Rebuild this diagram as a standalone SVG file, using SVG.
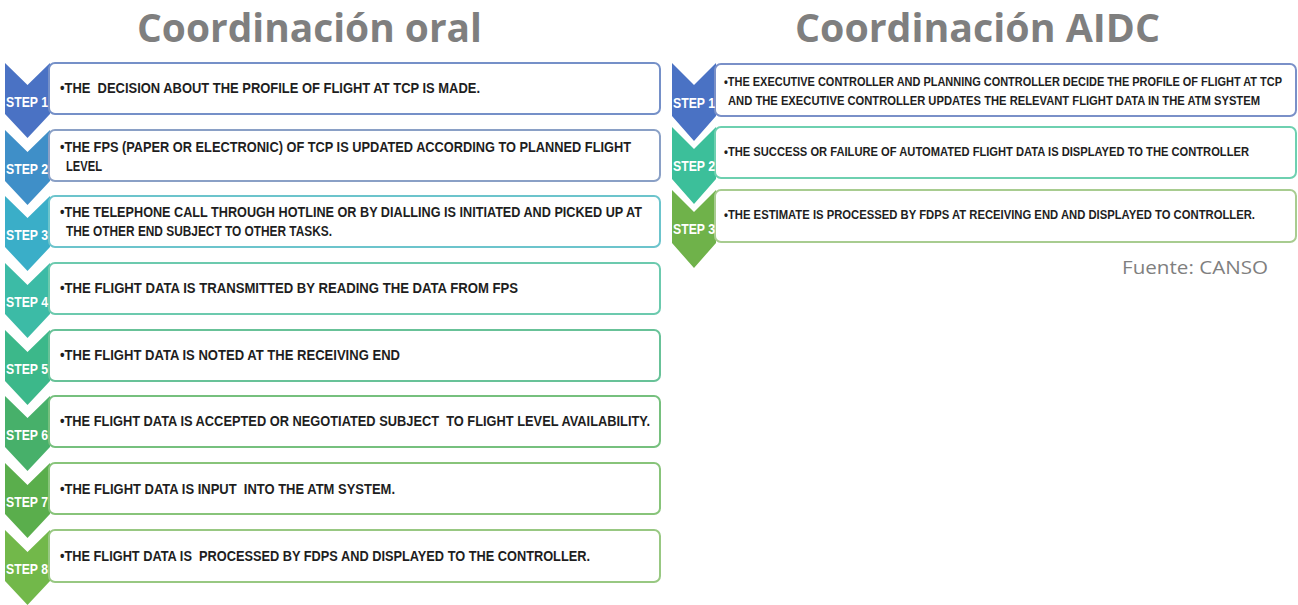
<svg xmlns="http://www.w3.org/2000/svg" width="1298" height="605" viewBox="0 0 1298 605">
<style>
text{white-space:pre}
.title{font-family:"Open Sans","Liberation Sans",sans-serif;font-weight:bold;font-size:40px;fill:#7f7f7f}
.src{font-family:"Open Sans","Liberation Sans",sans-serif;font-size:19px;fill:#7f7f7f}
.lbl{font-family:"Liberation Sans","DejaVu Sans",sans-serif;font-weight:bold;font-size:15px;fill:#ffffff}
.txt{font-family:"Liberation Sans","DejaVu Sans",sans-serif;font-weight:bold;font-size:14px;fill:#1e1e1e}
.txs{font-family:"Liberation Sans","DejaVu Sans",sans-serif;font-weight:bold;font-size:12px;fill:#1e1e1e}
.box{fill:#ffffff;stroke-width:2}
</style>
<rect width="1298" height="605" fill="#ffffff"/>
<text class="title" x="137" y="42" textLength="345" lengthAdjust="spacingAndGlyphs">Coordinación oral</text>
<text class="title" x="795" y="42" textLength="365" lengthAdjust="spacingAndGlyphs">Coordinación AIDC</text>

<g id="oral-step1">
<path d="M5,63 L27.5,85 L50,63 L50,114 L27.5,138 L5,114 Z" fill="#4a72c4"/>
<rect class="box" x="49" y="63" width="611" height="51" rx="6" stroke="#7590c8"/>
<text class="lbl" x="6" y="107" textLength="42" lengthAdjust="spacingAndGlyphs">STEP 1</text>
<text class="txt" x="60" y="93" textLength="420" lengthAdjust="spacingAndGlyphs">•THE  DECISION ABOUT THE PROFILE OF FLIGHT AT TCP IS MADE.</text>
</g>
<g id="oral-step2">
<path d="M5,130 L27.5,152 L50,130 L50,181 L27.5,205 L5,181 Z" fill="#3f8fc8"/>
<rect class="box" x="49" y="130" width="611" height="51" rx="6" stroke="#8aa0c6"/>
<text class="lbl" x="6" y="174" textLength="42" lengthAdjust="spacingAndGlyphs">STEP 2</text>
<text class="txt" x="60" y="152" textLength="571" lengthAdjust="spacingAndGlyphs">•THE FPS (PAPER OR ELECTRONIC) OF TCP IS UPDATED ACCORDING TO PLANNED FLIGHT</text>
<text class="txt" x="66" y="171" textLength="36" lengthAdjust="spacingAndGlyphs">LEVEL</text>
</g>
<g id="oral-step3">
<path d="M5,196 L27.5,218 L50,196 L50,247 L27.5,271 L5,247 Z" fill="#3aaec8"/>
<rect class="box" x="49" y="196" width="611" height="51" rx="6" stroke="#6cc4cc"/>
<text class="lbl" x="6" y="240" textLength="42" lengthAdjust="spacingAndGlyphs">STEP 3</text>
<text class="txt" x="60" y="217" textLength="582" lengthAdjust="spacingAndGlyphs">•THE TELEPHONE CALL THROUGH HOTLINE OR BY DIALLING IS INITIATED AND PICKED UP AT</text>
<text class="txt" x="66" y="236" textLength="266" lengthAdjust="spacingAndGlyphs">THE OTHER END SUBJECT TO OTHER TASKS.</text>
</g>
<g id="oral-step4">
<path d="M5,263 L27.5,285 L50,263 L50,314 L27.5,338 L5,314 Z" fill="#3cbba6"/>
<rect class="box" x="49" y="263" width="611" height="51" rx="6" stroke="#6ccaae"/>
<text class="lbl" x="6" y="307" textLength="42" lengthAdjust="spacingAndGlyphs">STEP 4</text>
<text class="txt" x="60" y="293" textLength="458" lengthAdjust="spacingAndGlyphs">•THE FLIGHT DATA IS TRANSMITTED BY READING THE DATA FROM FPS</text>
</g>
<g id="oral-step5">
<path d="M5,330 L27.5,352 L50,330 L50,381 L27.5,405 L5,381 Z" fill="#3cb88a"/>
<rect class="box" x="49" y="330" width="611" height="51" rx="6" stroke="#68c298"/>
<text class="lbl" x="6" y="374" textLength="42" lengthAdjust="spacingAndGlyphs">STEP 5</text>
<text class="txt" x="60" y="360" textLength="340" lengthAdjust="spacingAndGlyphs">•THE FLIGHT DATA IS NOTED AT THE RECEIVING END</text>
</g>
<g id="oral-step6">
<path d="M5,396 L27.5,418 L50,396 L50,447 L27.5,471 L5,447 Z" fill="#47b06a"/>
<rect class="box" x="49" y="396" width="611" height="51" rx="6" stroke="#76c07e"/>
<text class="lbl" x="6" y="440" textLength="42" lengthAdjust="spacingAndGlyphs">STEP 6</text>
<text class="txt" x="60" y="426" textLength="590" lengthAdjust="spacingAndGlyphs">•THE FLIGHT DATA IS ACCEPTED OR NEGOTIATED SUBJECT  TO FLIGHT LEVEL AVAILABILITY.</text>
</g>
<g id="oral-step7">
<path d="M5,463 L27.5,485 L50,463 L50,514 L27.5,538 L5,514 Z" fill="#5aae4c"/>
<rect class="box" x="49" y="463" width="611" height="51" rx="6" stroke="#88c47a"/>
<text class="lbl" x="6" y="507" textLength="42" lengthAdjust="spacingAndGlyphs">STEP 7</text>
<text class="txt" x="60" y="494" textLength="335" lengthAdjust="spacingAndGlyphs">•THE FLIGHT DATA IS INPUT  INTO THE ATM SYSTEM.</text>
</g>
<g id="oral-step8">
<path d="M5,530 L27.5,552 L50,530 L50,581 L27.5,605 L5,581 Z" fill="#72b84a"/>
<rect class="box" x="49" y="530" width="611" height="52" rx="6" stroke="#98c882"/>
<text class="lbl" x="6" y="574" textLength="42" lengthAdjust="spacingAndGlyphs">STEP 8</text>
<text class="txt" x="60" y="561" textLength="530" lengthAdjust="spacingAndGlyphs">•THE FLIGHT DATA IS  PROCESSED BY FDPS AND DISPLAYED TO THE CONTROLLER.</text>
</g>

<g id="aidc-step1">
<path d="M672,63 L694,85 L716,63 L716,116 L694,141 L672,116 Z" fill="#4a72c4"/>
<rect class="box" x="715" y="64" width="581" height="52" rx="6" stroke="#7a90c8"/>
<text class="lbl" x="673" y="108" textLength="42" lengthAdjust="spacingAndGlyphs">STEP 1</text>
<text class="txs" x="724" y="86" textLength="558" lengthAdjust="spacingAndGlyphs">•THE EXECUTIVE CONTROLLER AND PLANNING CONTROLLER DECIDE THE PROFILE OF FLIGHT AT TCP</text>
<text class="txs" x="728" y="105" textLength="532" lengthAdjust="spacingAndGlyphs">AND THE EXECUTIVE CONTROLLER UPDATES THE RELEVANT FLIGHT DATA IN THE ATM SYSTEM</text>
</g>
<g id="aidc-step2">
<path d="M672,127 L694,149 L716,127 L716,179 L694,204 L672,179 Z" fill="#3cbf9a"/>
<rect class="box" x="715" y="127" width="581" height="51" rx="6" stroke="#6ed0b0"/>
<text class="lbl" x="673" y="171" textLength="42" lengthAdjust="spacingAndGlyphs">STEP 2</text>
<text class="txs" x="724" y="156" textLength="525" lengthAdjust="spacingAndGlyphs">•THE SUCCESS OR FAILURE OF AUTOMATED FLIGHT DATA IS DISPLAYED TO THE CONTROLLER</text>
</g>
<g id="aidc-step3">
<path d="M672,190 L694,212 L716,190 L716,243 L694,268 L672,243 Z" fill="#6fb24a"/>
<rect class="box" x="715" y="190" width="581" height="52" rx="6" stroke="#a8cc90"/>
<text class="lbl" x="673" y="234" textLength="42" lengthAdjust="spacingAndGlyphs">STEP 3</text>
<text class="txs" x="724" y="219" textLength="531" lengthAdjust="spacingAndGlyphs">•THE ESTIMATE IS PROCESSED BY FDPS AT RECEIVING END AND DISPLAYED TO CONTROLLER.</text>
</g>

<text class="src" x="1122" y="274" textLength="146" lengthAdjust="spacingAndGlyphs">Fuente: CANSO</text>
</svg>
